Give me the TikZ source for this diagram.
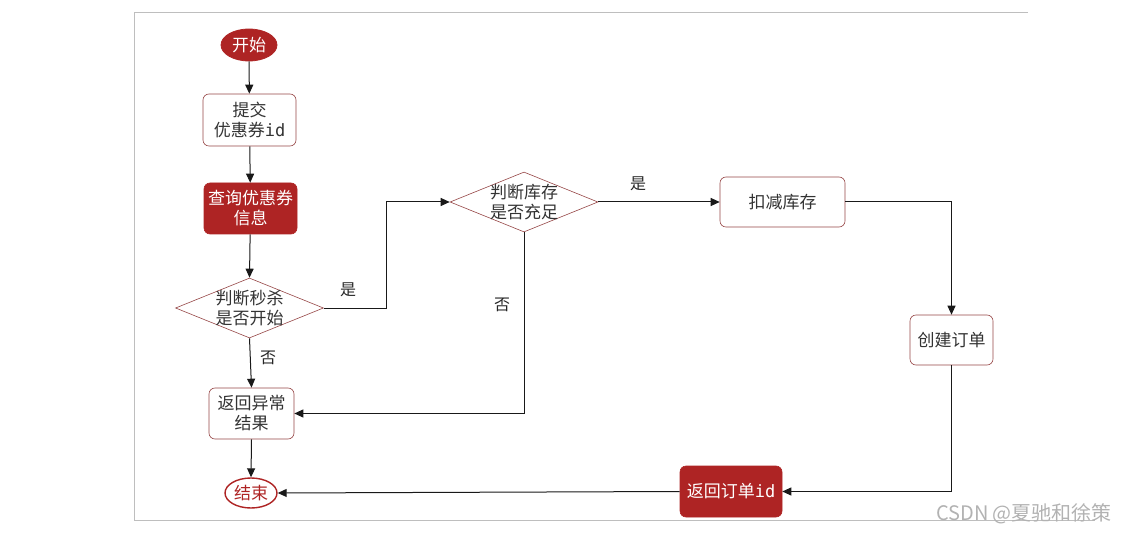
\documentclass[tikz,border=0pt]{standalone}
\usepackage{fontspec}
\setmainfont{Noto Sans CJK SC}
\newfontfamily\idfont{DejaVu Sans Mono}
\usetikzlibrary{arrows.meta,shapes.geometric}
\definecolor{dred}{RGB}{174,36,36}
\definecolor{bred}{RGB}{150,70,70}
\definecolor{framegray}{RGB}{190,190,190}
\begin{document}
\begin{tikzpicture}[x=1pt,y=-1pt,
  every node/.style={font=\fontsize{17}{20}\selectfont, align=center, inner sep=0pt},
  wbox/.style={draw=bred, line width=0.6pt, rounded corners=6pt, fill=white, text=black!80},
  rbox/.style={draw=dred, line width=0.6pt, rounded corners=6pt, fill=dred, text=white},
  rell/.style={ellipse, draw=dred, fill=dred, text=white, line width=0.8pt},
  well/.style={ellipse, draw=dred, fill=white, text=dred, line width=1.4pt},
  dia/.style={diamond, draw=bred, line width=0.6pt, fill=white, text=black!80, aspect=2.47},
  conn/.style={draw=black!90, line width=1pt, -{Triangle[length=9pt,width=8pt]}},
  lbl/.style={text=black!85, font=\fontsize{16}{17}\selectfont}]
\useasboundingbox (0,0) rectangle (1123,534);
% frame
\draw[framegray, line width=1pt] (1028,13) -- (134,13) -- (134,520) -- (1095,520);
% nodes
\node[rell, minimum width=56pt, minimum height=32pt] (start) at (249,45) {开始};
\node[wbox, minimum width=93pt, minimum height=52pt] (submit) at (249.5,120) {提交\\优惠券{\idfont\fontsize{17}{20}\selectfont id}};
\node[rbox, minimum width=93pt, minimum height=51pt] (query) at (250.5,208.5) {查询优惠券\\信息};
\node[dia, minimum width=148pt, minimum height=60pt] (d1) at (249.5,308) {};
\node[text=black!80] at (d1) {判断秒杀\\是否开始};
\node[wbox, minimum width=85pt, minimum height=51pt] (err) at (251.5,413.5) {返回异常\\结果};
\node[well, minimum width=52pt, minimum height=30pt] (end) at (251,493) {结束};
\node[dia, minimum width=148pt, minimum height=60pt] (d2) at (524,202) {};
\node[text=black!80] at (d2) {判断库存\\是否充足};
\node[wbox, minimum width=125pt, minimum height=50pt] (deduct) at (782.5,202) {扣减库存};
\node[wbox, minimum width=83pt, minimum height=50pt] (create) at (951.5,340) {创建订单};
\node[rbox, minimum width=102pt, minimum height=51pt] (ret) at (731,491.5) {返回订单{\idfont\fontsize{17}{20}\selectfont id}};
% connectors
\draw[conn] (start) -- (submit);
\draw[conn] (submit) -- (query);
\draw[conn] (query) -- (d1.north);
\draw[conn] (d1.east) -- (386,308) |- (d2.west);
\node[lbl] (yes1) at (348,290) {是};
\draw[conn] (d1.south) -- (err.north);
\node[lbl] (no1) at (268,358) {否};
\draw[conn] (d2.south) |- (err.east);
\node[lbl] (no2) at (502,305) {否};
\draw[conn] (d2.east) -- (deduct.west);
\node[lbl] (yes2) at (638,184) {是};
\draw[conn] (deduct.east) -| (create.north);
\draw[conn] (create.south) |- (ret.east);
\draw[conn] (ret.west) -- (end.east);
\draw[conn] (err.south) -- (end.north);
% watermark
\node[text=black!30, font=\fontsize{20}{22}\selectfont] (wm) at (1024,514) {CSDN @夏驰和徐策};
\end{tikzpicture}
\end{document}
